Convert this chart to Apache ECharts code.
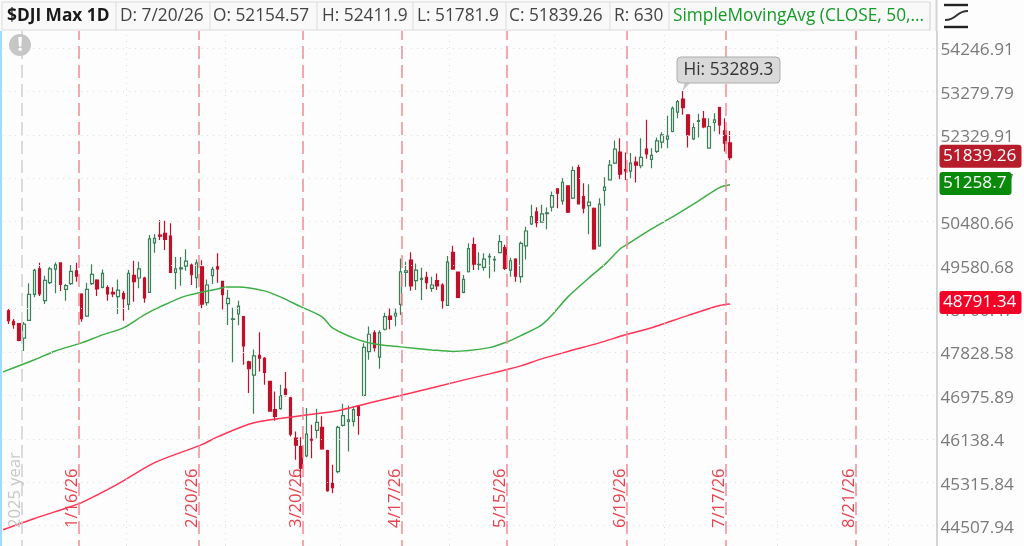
<!DOCTYPE html>
<html><head><meta charset="utf-8">
<style>html,body{margin:0;padding:0;background:#fdfdfd}#c{width:1024px;height:546px}</style>
<script src="https://cdn.jsdelivr.net/npm/echarts@6/dist/echarts.min.js"></script>
</head><body><div id="c"></div>
<script>
const opens=[48653,48439,48392,48104,48459,48984,49506,48856,49222,49500,49629,49086,49201,49466,48991,48546,49201,49276,49127,49120,49025,48937,48998,48781,49371,49317,49317,49025,50038,50204,50239,50183,49432,49506,49561,49581,49323,49547,48815,49364,49547,49249,48795,48480,48587,48534,47634,47374,47764,47705,47249,46699,46718,47099,46931,46151,45992,45815,46131,46299,46357,45916,45297,45518,46396,46473,46473,46776,46976,47836,48208,47725,48281,48547,48547,48781,49432,49685,49262,49290,49330,49106,49262,49174,48761,49844,49439,49025,49445,50004,49585,49534,49750,49690,49837,49941,49479,49706,49344,49976,50433,50686,50474,50650,50785,51172,50919,51236,50975,51627,51010,50820,50763,49977,51137,51363,51721,51957,51584,51549,51742,51664,52022,51799,51971,52172,52237,52403,52823,53113,52765,52244,52625,52678,52043,52598,52925,52417,52154.57];
const closes=[48452,48372,48057,48385,48984,49473,48991,49269,49506,49588,49188,49161,49452,49357,48492,49086,49391,49093,49411,48991,48991,49072,48896,49411,49242,49506,48910,50121,50135,50177,50114,49432,49506,49527,49664,49384,49629,48788,49174,49493,49506,48977,48903,48490,48747,47949,47498,47751,47705,47426,46673,46570,46970,46995,46228,46018,45581,46228,46112,46454,45948,45157,45215,46357,46583,46505,46699,46589,47920,48181,47913,48214,48534,48480,48600,49445,49466,49154,49479,49310,49222,49174,49154,48855,49643,49500,48923,49290,49920,49602,49595,49706,49760,49700,50066,49513,49671,49357,50031,50287,50587,50460,50644,50665,51031,51081,51313,50679,51563,50855,50763,50890,49914,50848,51208,51678,52022,51484,51556,51721,51678,51842,51921,51885,52201,52330,52301,52910,53055,52925,52330,52490,52640,52504,52511,52656,52547,52151,51839.26];
const lows=[48385,48291,48043,47849,48445,48923,48950,48788,49195,49005,49052,48856,49174,49242,48432,48532,49174,48950,49106,48856,48923,48586,48452,48666,48835,49106,48815,49010,49837,50100,49893,49418,49086,49161,49466,49174,49106,48700,48754,49195,49222,48680,48365,47627,48361,47575,47022,46621,47445,47184,46660,46486,46699,46957,46183,45739,45391,45790,45771,46151,45929,45140,45108,45486,46376,45897,46376,46215,46960,47673,47836,47497,48254,48281,48341,48567,49140,49059,49072,48869,49086,49039,49072,48700,48747,49490,48910,49005,49430,49479,49479,49466,49310,49445,49823,49479,49344,49242,49222,49699,50412,50363,50460,50322,50693,50763,50834,50665,50960,50840,50658,50218,49900,49960,50813,51350,51700,51377,51363,51398,51306,51613,51814,51613,51936,52043,52043,52388,52693,52765,52058,52220,52273,52475,52030,52403,52345,51971,51781.9];
const highs=[48687,48486,48405,48425,49208,49506,49629,49364,49547,49636,49636,49195,49581,49629,49005,49222,49601,49290,49493,49167,49127,49289,49052,49479,49669,49649,49344,50204,50225,50516,50502,50446,49747,49747,49907,49615,49696,49683,49289,49547,49824,49262,49072,48713,48856,48547,47654,47880,48219,47730,47260,47054,47184,47432,46950,46280,46170,46731,46409,46718,46570,45930,45644,46389,46815,46776,46763,46790,48000,48334,48260,48260,48614,48700,48700,49719,49649,49844,49615,49527,49445,49344,49411,49208,49768,49983,49445,49378,50031,50149,49844,49823,49823,49768,50204,50000,49733,49720,50066,50377,50834,50785,50834,50778,51116,51185,51398,51250,51648,51685,51292,51271,50780,50975,51420,51785,52208,52258,51950,51936,51864,52258,52656,52043,52273,52388,52744,52946,53091,53289.3,52780,52584,52787,52852,52693,52801,52940,52693,52411.9];

const sma50Index=[-1,5,9,14,18,22,26,29,34,40,42,44,49,52,56,60,62,67,71,75,81,85,92,95,98,102,104,107,111,114,117,118,123,127,132,136,138];
const sma50Values=[47436,47675,47849,48009,48169,48309,48570,48730,48953,49095,49136,49136,49055,48933,48730,48530,48310,48070,47970,47930,47870,47839,47915,48015,48155,48370,48570,48933,49318,49591,49917,49986,50330,50580,50920,51200,51258.7];
const sma200Index=[-1,5,9,14,21,28,37,40,47,56,63,69,77,86,92,95,98,102,107,113,118,123,130,136,138];
const sma200Values=[44432,44640,44768,44936,45285,45686,46027,46176,46446,46581,46678,46830,47022,47250,47397,47475,47554,47692,47839,48009,48170,48310,48560,48760,48791.34];

const expiryLabels=['1/16/26','2/20/26','3/20/26','4/17/26','5/15/26','6/19/26','7/17/26','8/21/26'];
const expiryIndex=[13.52,36.46,56.3,75.3,95.35,118.2,137.2,162.1];
const yearIndex=2.56;
const monthIndex=[22.6,41.4,63.4,84.3,104.3,125.4,147,168.2];
const tickValues=[44507.94,45315.84,46138.4,46975.89,47828.58,48700.47,49580.68,50480.66,51396.47,52329.91,53279.79,54246.91];
const headerCells=[['$DJI Max 1D',7,true,'#1a1a1a'],['D: 7/20/26',120,false,'#444'],['O: 52154.57',213,false,'#444'],['H: 52411.9',322,false,'#444'],['L: 51781.9',417,false,'#444'],['C: 51839.26',509,false,'#444'],['R: 630',614,false,'#444'],['SimpleMovingAvg (CLOSE, 50,...',673,false,'#159a28']];
const headerSeps=[116,210,317,413,506,610,669,930];
const priceTags=[['51839.26',51839.26,'#b71c2b',82],['51258.7',51258.7,'#0a8a0a',72],['48791.34',48791.34,'#f20025',82]];

const FONT='"Open Sans"';
const logStep=Math.log(54246.91/44507.94)/11;
const pxPerStep=(525.7-48)/11;
const yAt=y=>44507.94*Math.exp((525.7-y)/pxPerStep*logStep);
const G_L=3,G_R=936.5,G_T=31,G_B=546;
const xAt=x=>(x-8.3)/5.23;

const chart=echarts.init(document.getElementById('c'),null,{renderer:'canvas'});
const expiryLine=(v,style,label)=>[{xAxis:v,yAxis:yAt(G_B),lineStyle:style,label:label},{xAxis:v,yAxis:yAt(G_T)}];
chart.setOption({
 animation:false,
 backgroundColor:'#fdfdfd',
 grid:{left:G_L,right:1024-G_R,top:G_T,bottom:546-G_B,containLabel:false},
 xAxis:{type:'value',min:xAt(G_L),max:xAt(G_R),show:false,splitLine:{show:false},scale:true},
 yAxis:{type:'log',position:'right',min:yAt(G_B),max:yAt(G_T),
  axisLine:{show:true,onZero:false,lineStyle:{color:'#d4d4d4',width:2}},
  axisTick:{show:false,customValues:tickValues},
  axisLabel:{show:true,hideOverlap:false,customValues:tickValues,fontFamily:FONT,fontSize:17.2,color:'#7a7a7a',margin:4,verticalAlign:'top',lineHeight:5,
    formatter:v=>String(tickValues.reduce((a,b)=>Math.abs(b-v)<Math.abs(a-v)?b:a))},
  splitLine:{show:false}},
 series:[
  {type:'line',data:[],z:1,silent:true,
   markLine:{symbol:'none',silent:true,animation:false,precision:4,label:{show:false},
    data:monthIndex.map(v=>({xAxis:v,lineStyle:{color:'#dedede',type:[1,5],width:1}})).concat(
     tickValues.map(v=>({yAxis:v,lineStyle:{color:'#dedede',type:[1,5],width:1}})))}},
  {type:'line',data:[],z:2,silent:true,
   markLine:{symbol:'none',silent:true,animation:false,precision:4,
    label:{position:'insideStartTop',fontFamily:FONT,fontSize:16.6,color:'#e5444f',distance:2,offset:[16,0]},
    data:expiryIndex.map((v,i)=>expiryLine(v,{color:'#f08a94',type:[13,6],dashOffset:7,width:1.5},{show:true,formatter:expiryLabels[i]})).concat(
     [expiryLine(yearIndex,{color:'#cfcfcf',type:[13,6],dashOffset:7,width:1.5},{show:true,formatter:'2025 year',color:'#c8c8c8'})])}},
  {type:'candlestick',z:3,barWidth:3,
   data:opens.map((o,i)=>[i,o,closes[i],lows[i],highs[i]]),
   encode:{x:0,y:[1,2,3,4]},
   itemStyle:{color:'#f6faf7',color0:'#c0102a',borderColor:'#3c8059',borderColor0:'#c0102a',borderColorDoji:'#1f6a42',borderWidth:1.2}},
  {type:'line',z:4,smooth:0.3,data:sma50Index.map((x,i)=>[x,sma50Values[i]]),showSymbol:false,lineStyle:{color:'#3cae45',width:1.5}},
  {type:'line',z:4,smooth:0.3,data:sma200Index.map((x,i)=>[x,sma200Values[i]]),showSymbol:false,lineStyle:{color:'#ff3355',width:1.5}}
 ]
});
const hiIdx=highs.indexOf(Math.max(...highs));
const hiPt=chart.convertToPixel({gridIndex:0},[hiIdx,highs[hiIdx]]);
const gfx=[
 {type:'rect',shape:{x:0,y:0,width:2,height:546},style:{fill:'#9fdcfb'},z:20},
 {type:'rect',shape:{x:0,y:0,width:G_R,height:31},style:{fill:'#fafafa'},z:20},
 {type:'rect',shape:{x:2,y:2,width:928,height:28},style:{fill:'#f9f9f9',stroke:'#dcdcdc',lineWidth:1},z:21},
 {type:'rect',shape:{x:G_R,y:0,width:88,height:31},style:{fill:'#fdfdfd'},z:20},
 {type:'line',shape:{x1:G_R,y1:0,x2:G_R,y2:31},style:{stroke:'#d4d4d4',lineWidth:2},z:21}
];
headerSeps.forEach(x=>gfx.push({type:'line',shape:{x1:x,y1:2,x2:x,y2:30},style:{stroke:'#dcdcdc',lineWidth:1},z:22}));
headerCells.forEach(c=>gfx.push({type:'text',x:c[1],y:16,style:{text:c[0],fill:c[3],font:(c[2]?'bold ':'')+'17.3px '+FONT,verticalAlign:'middle',align:'left'},z:23}));
/* indicator icon */
gfx.push({type:'line',shape:{x1:944,y1:5,x2:968,y2:5},style:{stroke:'#222',lineWidth:2.4},z:23});
gfx.push({type:'line',shape:{x1:944,y1:27,x2:968,y2:27},style:{stroke:'#222',lineWidth:2.4},z:23});
gfx.push({type:'bezierCurve',shape:{x1:945,y1:20,cpx1:958,cpy1:20,cpx2:955,cpy2:11,x2:968,y2:11},style:{stroke:'#333',lineWidth:1.8,fill:null},z:23});
/* warning */
gfx.push({type:'circle',shape:{cx:20,cy:45,r:11},style:{fill:'#c6c6c6'},z:23});
gfx.push({type:'text',x:20,y:45,style:{text:'!',fill:'#fff',font:'bold 20px '+FONT,align:'center',verticalAlign:'middle'},z:24});
/* high callout */
gfx.push({type:'polygon',shape:{points:[[hiPt[0]-0.5,hiPt[1]],[hiPt[0]+2,hiPt[1]-9],[hiPt[0]+8,hiPt[1]-9]]},style:{fill:'#c8c8c8'},z:24});
gfx.push({type:'rect',shape:{x:677,y:57,width:103,height:26,r:4},style:{fill:'#d9d9d9',stroke:'#adadad',lineWidth:1},z:25});
gfx.push({type:'text',x:728.5,y:70,style:{text:'Hi: '+highs[hiIdx],fill:'#333',font:'17.3px '+FONT,align:'center',verticalAlign:'middle'},z:26});
/* price tags */
priceTags.forEach(t=>{const yy=chart.convertToPixel({yAxisIndex:0},t[1])-1.4;
 gfx.push({type:'rect',shape:{x:939.5,y:yy-11.5,width:t[3],height:23,r:3},style:{fill:t[2]},z:26});
 gfx.push({type:'text',x:943,y:yy,style:{text:t[0],fill:'#fff',font:'17.2px '+FONT,align:'left',verticalAlign:'middle'},z:27});
});
chart.setOption({graphic:gfx});
</script></body></html>
